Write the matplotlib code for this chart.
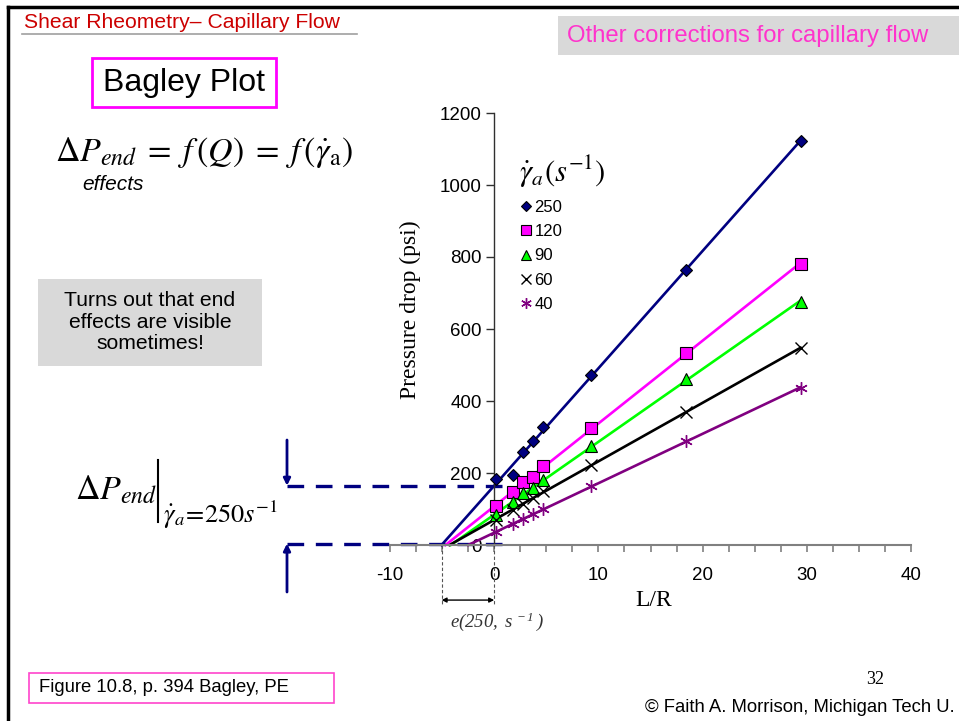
import numpy as np
import matplotlib
matplotlib.use('Agg')
import matplotlib.pyplot as plt
from matplotlib.lines import Line2D
from matplotlib.patches import Rectangle
import matplotlib.transforms as mtransforms

#==============================================================================
# data (L/R vs pressure drop, psi)
lr = [0.2, 1.8, 2.8, 3.7, 4.7, 9.3, 18.4, 29.4]
dp_250 = [183, 194, 258, 289, 328, 472, 764, 1122]
dp_120 = [108, 147, 175, 189, 219, 325, 533, 781]
dp_90 = [83, 119, 144, 158, 181, 275, 461, 675]
dp_60 = [70, 98, 115, 130, 150, 222, 369, 547]
dp_40 = [35, 58, 72, 85, 100, 164, 289, 436]
rates = ['250', '120', '90', '60', '40']

x_ticks = [-10, 0, 10, 20, 30, 40]
y_ticks = [0, 200, 400, 600, 800, 1000, 1200]

#==============================================================================
plt.rcParams['font.family'] = ['Liberation Sans', 'DejaVu Sans']
plt.rcParams['mathtext.fontset'] = 'stix'
plt.rcParams['axes.unicode_minus'] = False
# 'custom' math set used only for the italic Times-like e(250, s^-1) label
plt.rcParams['mathtext.rm'] = 'Liberation Serif:italic'
plt.rcParams['mathtext.it'] = 'Liberation Serif:italic'

W, H = 959, 721
fig = plt.figure(figsize=(W/100, H/100), dpi=100)

def fp(x, y):
    # pixel (from top-left) -> figure fraction
    return x/W, 1 - y/H

# axes placed where the slide chart sits
x0, y0 = fp(390, 545)
x1, y1 = fp(911, 113)
ax = fig.add_axes([x0, y0, x1-x0, y1-y0])
ax.set_xlim(-10, 40)
ax.set_ylim(0, 1200)
ax.patch.set_alpha(0)

series = [dp_250, dp_120, dp_90, dp_60, dp_40]
colors = ['#000080', '#ff00ff', '#00ff00', '#000000', '#800080']
markers = ['D', 's', '^', 'x', (6, 2, 0)]
msizes = [6, 9, 9, 8, 9]

handles = []
fits = []
for dp, c, m, ms in zip(series, colors, markers, msizes):
    slope, icpt = np.polyfit(lr, dp, 1)
    fits.append((slope, icpt))
    xs = np.array([-icpt/slope, max(lr)])
    ax.plot(xs, slope*xs + icpt, color=c, lw=1.9, zorder=2, clip_on=False)
    if m in ('x', (6, 2, 0)):
        h, = ax.plot(lr, dp, ls='none', marker=m, ms=ms, color=c, mew=1.0,
                     zorder=3, clip_on=False)
    else:
        h, = ax.plot(lr, dp, ls='none', marker=m, ms=ms, mfc=c, mec='black',
                     mew=0.8, zorder=3, clip_on=False)
    handles.append(h)

# axes look (Excel style, axes crossing at the origin)
for s in ['top', 'right']:
    ax.spines[s].set_visible(False)
ax.spines['left'].set_position(('data', 0))
ax.spines['bottom'].set_position(('data', 0))
ax.spines['bottom'].set_color('#808080')
ax.spines['bottom'].set_linewidth(1.5)
ax.spines['left'].set_color('#303030')
ax.spines['left'].set_linewidth(1.0)
ax.set_xticks(x_ticks)
ax.set_xticks(np.arange(-10, 40.1, 2.5), minor=True)
ax.set_yticks(y_ticks)
ax.tick_params(axis='x', which='both', direction='out', length=5, width=1.2,
               color='#808080', labelsize=13.5, pad=11)
ax.tick_params(axis='y', direction='out', length=6, width=1.0,
               color='#303030', labelsize=13.5, pad=3)
ax.set_xlabel('L/R', family='Liberation Serif', fontsize=17)
ax.xaxis.set_label_coords(0.507, -0.105)
ax.set_ylabel('Pressure drop (psi)', family='Liberation Serif', fontsize=17)
ax.yaxis.set_label_coords(0.059, 0.545)

leg = ax.legend(handles, rates, title=r'$\dot{\gamma}_a(s^{-1})$',
                loc='upper left', bbox_to_anchor=fp(511, 146),
                bbox_transform=fig.transFigure, frameon=False, fontsize=12,
                handlelength=0.8, handletextpad=0.1, labelspacing=0.56,
                borderpad=0, alignment='left', markerscale=0.85)
leg.get_title().set_fontsize(22)

# end-correction annotation for 250 1/s
slope, icpt = fits[0]
e250 = -icpt/slope
blend = mtransforms.blended_transform_factory(fig.transFigure, ax.transData)
xl = 287/W
ax.plot([xl, fp(508, 0)[0]], [icpt, icpt], transform=blend, color='#000080',
        lw=2.4, dashes=(5, 3.5), clip_on=False, zorder=1)
ax.plot([xl, fp(508, 0)[0]], [4, 4], transform=blend, color='#000080',
        lw=2.4, dashes=(5, 3.5), clip_on=False, zorder=1)
ax.annotate('', xy=(xl, icpt), xycoords=blend, xytext=fp(287, 440),
            textcoords='figure fraction',
            arrowprops=dict(arrowstyle='-|>', color='#000080', lw=2,
                            mutation_scale=10, shrinkA=0, shrinkB=0))
ax.annotate('', xy=(xl, 4), xycoords=blend, xytext=fp(287, 592),
            textcoords='figure fraction',
            arrowprops=dict(arrowstyle='-|>', color='#000080', lw=2,
                            mutation_scale=10, shrinkA=0, shrinkB=0))
for xv in [e250, 0]:
    ax.plot([xv, xv], [0, -170], color='#555555', lw=0.8, ls=(0, (3, 2)),
            clip_on=False)
ax.annotate('', xy=(0, -153), xytext=(e250, -153),
            arrowprops=dict(arrowstyle='<|-|>', color='black', lw=1.0,
                            mutation_scale=7, shrinkA=0, shrinkB=0),
            annotation_clip=False)
ax.text(0.3, -212, r'$e(250,\ s^{\,-1}\,)$', fontsize=13.5,
        ha='center', va='center', color='#333333', math_fontfamily='custom')

#==============================================================================
# slide decorations
fig.add_artist(Line2D([8/W, 1], [1-7/H, 1-7/H], color='black', lw=2.5))
fig.add_artist(Line2D([8/W, 8/W], [0, 1-7/H], color='black', lw=2.5))

fig.text(*fp(24, 22), 'Shear Rheometry\u2013 Capillary Flow', color='#cc0000',
         fontsize=15.2, va='center')
fig.add_artist(Line2D([22/W, 357/W], [1-34/H, 1-34/H], color='#a0a0a0', lw=1.2))

gx, gy = fp(558, 55)
fig.add_artist(Rectangle((gx, gy), 1-gx, 39/H, transform=fig.transFigure,
                         facecolor='#d9d9d9', edgecolor='none'))
fig.text(*fp(567, 36), 'Other corrections for capillary flow', color='#ff33cc',
         fontsize=17.2, va='center')

bx, by = fp(92, 107)
fig.add_artist(Rectangle((bx, by), 184/W, 49/H, transform=fig.transFigure,
                         facecolor='none', edgecolor='#ff00ff', lw=2))
fig.text(*fp(184, 83), 'Bagley Plot', fontsize=23, ha='center', va='center')

fig.text(*fp(55, 153),
         r'$\Delta P_{end}\;=\;f\,(Q)\;=\;f\,(\dot{\gamma}_{\mathrm{a}})$',
         fontsize=24.5, va='center')
fig.text(*fp(82, 185), 'effects', fontsize=15, style='italic', va='center')

tx, ty = fp(38, 366)
fig.add_artist(Rectangle((tx, ty), 224/W, 87/H, transform=fig.transFigure,
                         facecolor='#d9d9d9', edgecolor='none'))
fig.text(*fp(150, 322), 'Turns out that end\neffects are visible\nsometimes!',
         fontsize=15.2, ha='center', va='center', linespacing=1.18)

fig.text(*fp(75, 490), r'$\Delta P_{end}$', fontsize=24.5, va='center')
fig.add_artist(Line2D([158/W, 158/W], [1-460/H, 1-522/H], color='black', lw=1.5))
fig.text(*fp(163, 515), r'$\dot{\gamma}_a\!=\!250s^{-1}$', fontsize=19,
         va='center')

fx, fy = fp(29, 703)
fig.add_artist(Rectangle((fx, fy), 305/W, 30/H, transform=fig.transFigure,
                         facecolor='none', edgecolor='#ff44cc', lw=1.2))
fig.text(*fp(39, 688), 'Figure 10.8, p. 394 Bagley, PE', fontsize=13.3,
         va='center')
fig.text(*fp(875, 680), '32', family='Liberation Serif', fontsize=13,
         ha='center', va='center')
fig.text(*fp(955, 707), '\u00a9 Faith A. Morrison, Michigan Tech U.',
         fontsize=13.3, ha='right', va='center')

fig.savefig('out.png', dpi=100)
